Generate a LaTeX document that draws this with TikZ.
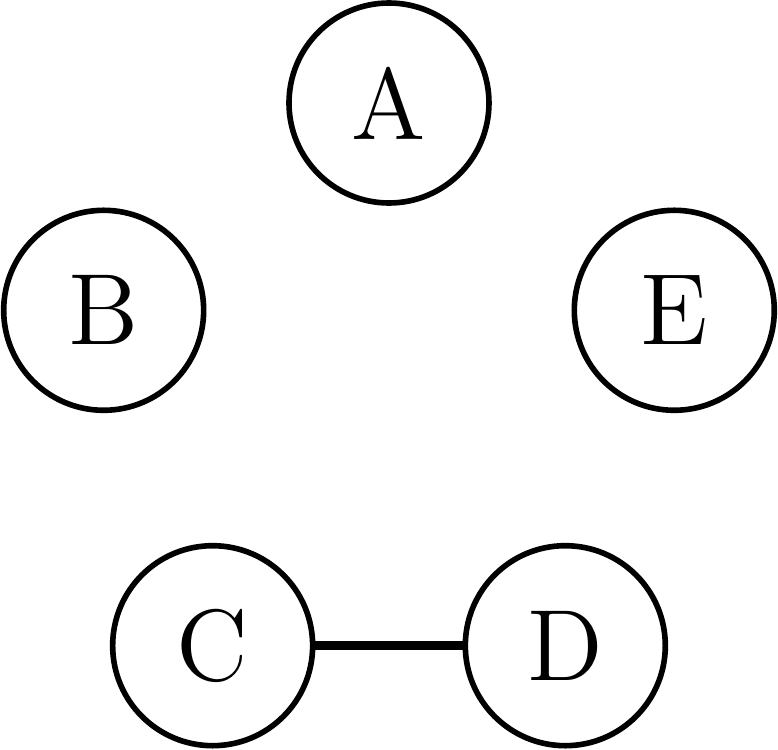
\documentclass[tikz,border=0pt]{standalone}
\begin{document}
\begin{tikzpicture}[
  every node/.style = {shape=circle, draw, thick, minimum size=1cm, inner sep=0pt, font=\Large}]
  \useasboundingbox (-1.945,-1.735) rectangle (1.945,2.015);

  \node (A) at (90:1.5)  {A};
  \node (B) at (162:1.5) {B};
  \node (C) at (234:1.5) {C};
  \node (D) at (306:1.5) {D};
  \node (E) at (18:1.5)  {E};

  \draw[very thick] (C) -- (D);
\end{tikzpicture}
\end{document}
